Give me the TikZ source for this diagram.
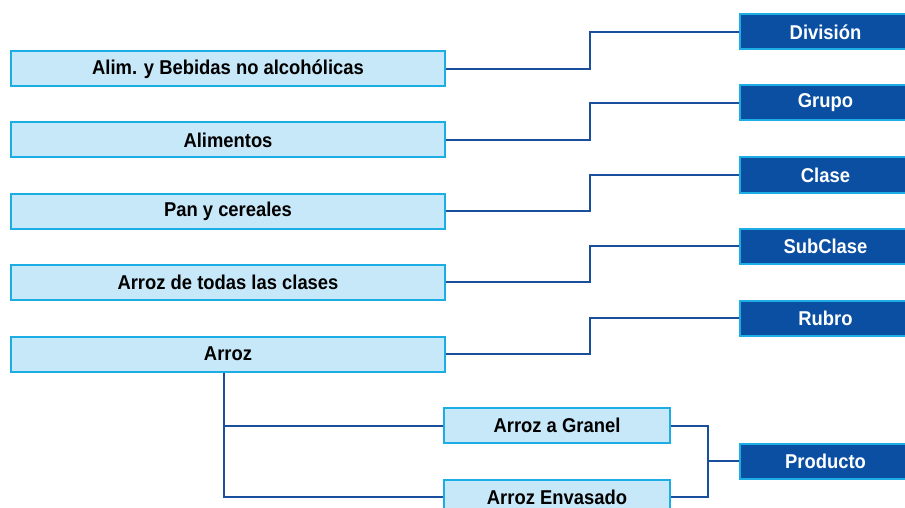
\documentclass[tikz,border=0pt]{standalone}
\usepackage{fontspec}
\setmainfont{Liberation Sans}
\newfontfamily\boxfont[FakeStretch=0.92]{Liberation Sans}
\definecolor{lightfill}{HTML}{C6E8F8}
\definecolor{cyanedge}{HTML}{1CADE4}
\definecolor{darkfill}{HTML}{0A4FA2}
\definecolor{linecol}{HTML}{1A4F9E}
\tikzset{
  lvl/.style={draw=cyanedge, line width=2pt, fill=lightfill, minimum height=35pt, inner sep=0pt,
    font=\boxfont\fontsize{20}{22}\selectfont\bfseries, text=black},
  tag/.style={draw=cyanedge, line width=2pt, fill=darkfill, minimum height=35pt, minimum width=171pt, inner sep=0pt,
    font=\boxfont\fontsize{20}{22}\selectfont\bfseries, text=white},
  link/.style={draw=linecol, line width=2pt}
}
\begin{document}
\begin{tikzpicture}[x=1pt,y=-1pt]
\useasboundingbox (0,0) rectangle (905,508);
\clip (0,0) rectangle (905,508);
% left level boxes
\node[lvl, minimum width=434pt] (a1) at (228,69) {Alim. y Bebidas no alcohólicas};
\node[lvl, minimum width=434pt] (a2) at (228,140) {Alimentos};
\node[lvl, minimum width=434pt] (a3) at (228,211) {Pan y cereales};
\node[lvl, minimum width=434pt] (a4) at (228,282) {Arroz de todas las clases};
\node[lvl, minimum width=434pt] (a5) at (228,354) {Arroz};
\node[lvl, minimum width=226pt] (p1) at (557,425.5) {Arroz a Granel};
\node[lvl, minimum width=226pt] (p2) at (557,497) {Arroz Envasado};
% right tags
\node[tag] (t1) at (825.5,32) {División};
\node[tag] (t2) at (825.5,103) {Grupo};
\node[tag] (t3) at (825.5,175) {Clase};
\node[tag] (t4) at (825.5,246) {SubClase};
\node[tag] (t5) at (825.5,318) {Rubro};
\node[tag] (t6) at (825.5,461) {Producto};
% connectors
\draw[link] (a1.east) -- (590,69) |- (t1.west);
\draw[link] (a2.east) -- (590,140) |- (t2.west);
\draw[link] (a3.east) -- (590,211) |- (t3.west);
\draw[link] (a4.east) -- (590,282) |- (t4.west);
\draw[link] (a5.east) -- (590,354) |- (t5.west);
\coordinate (br) at (224,372);
\draw[link] (a5.south -| br) |- (p2.west);
\draw[link] (224,425.5) -- (p1.west);
\draw[link] (p1.east) -- (708,425.5) |- (p2.east);
\draw[link] (708,461) -- (t6.west);
\end{tikzpicture}
\end{document}
